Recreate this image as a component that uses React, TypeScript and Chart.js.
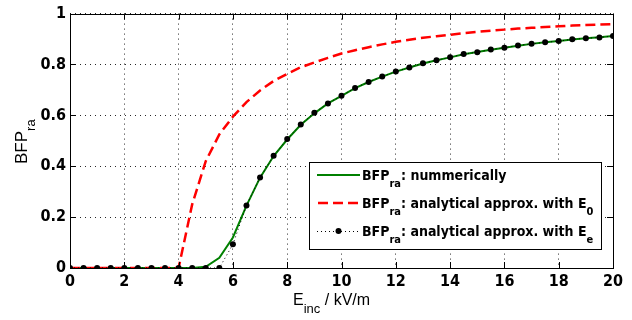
import React, { useEffect, useRef } from "react";
import { Chart, registerables } from "chart.js";

Chart.register(...registerables);

// x positions (E_inc in kV/m)
const eInc = [0, 0.5, 1, 1.5, 2, 2.5, 3, 3.5, 4, 4.5, 5, 5.5, 6, 6.5, 7, 7.5, 8, 8.5, 9, 9.5, 10, 10.5, 11, 11.5, 12, 12.5, 13, 13.5, 14, 14.5, 15, 15.5, 16, 16.5, 17, 17.5, 18, 18.5, 19, 19.5, 20];

// BFP_ra numerically (green)
const numerically = [0, 0, 0, 0, 0, 0, 0, 0, 0, 0, 0.005, 0.04, 0.12, 0.245, 0.355, 0.44, 0.505, 0.563, 0.608, 0.647, 0.677, 0.707, 0.731, 0.752, 0.772, 0.788, 0.804, 0.817, 0.828, 0.84, 0.849, 0.858, 0.866, 0.874, 0.881, 0.887, 0.892, 0.898, 0.903, 0.907, 0.912];

// BFP_ra analytical approx. with E_0 (red dashed)
const approxE0 = [0, 0, 0, 0, 0, 0, 0, 0, 0, 0.25, 0.42, 0.525, 0.595, 0.652, 0.698, 0.735, 0.763, 0.789, 0.808, 0.826, 0.843, 0.856, 0.868, 0.879, 0.889, 0.897, 0.905, 0.911, 0.917, 0.923, 0.928, 0.933, 0.937, 0.941, 0.944, 0.947, 0.95, 0.953, 0.955, 0.957, 0.959];

// BFP_ra analytical approx. with E_e (black dotted with markers)
const approxEe = [0, 0, 0, 0, 0, 0, 0, 0, 0, 0, 0, 0, 0.093, 0.246, 0.356, 0.441, 0.507, 0.564, 0.61, 0.647, 0.677, 0.708, 0.731, 0.753, 0.772, 0.788, 0.805, 0.817, 0.828, 0.841, 0.848, 0.859, 0.866, 0.875, 0.881, 0.887, 0.892, 0.899, 0.903, 0.906, 0.912];

const xTickLabels = ["0", "2", "4", "6", "8", "10", "12", "14", "16", "18", "20"];
const yTickLabels = ["0", "0.2", "0.4", "0.6", "0.8", "1"];

const TICK_FONT = "'Liberation Sans Narrow', 'DejaVu Sans Condensed', Arial, sans-serif";
const TITLE_FONT = "'Liberation Sans', Arial, sans-serif";

type Part = { t: string; sub?: boolean };

const legendTexts: Part[][] = [
  [{ t: "BFP" }, { t: "ra", sub: true }, { t: ": nummerically" }],
  [{ t: "BFP" }, { t: "ra", sub: true }, { t: ": analytical approx. with E" }, { t: "0", sub: true }],
  [{ t: "BFP" }, { t: "ra", sub: true }, { t: ": analytical approx. with E" }, { t: "e", sub: true }],
];

function drawParts(ctx: CanvasRenderingContext2D, parts: Part[], x: number, y: number, size: number, subSize: number, subDy: number, weight: string, family: string) {
  let cx = x;
  for (const p of parts) {
    ctx.font = `${weight} ${p.sub ? subSize : size}px ${family}`;
    ctx.fillText(p.t, cx, p.sub ? y + subDy : y);
    cx += ctx.measureText(p.t).width;
  }
  return cx;
}

const decorPlugin = {
  id: "decor",
  afterDraw(chart: any) {
    const ctx: CanvasRenderingContext2D = chart.ctx;
    const a = chart.chartArea;
    const xs = chart.scales.x;
    const ys = chart.scales.y;
    ctx.save();
    // box
    ctx.strokeStyle = "#000";
    ctx.lineWidth = 1;
    ctx.setLineDash([]);
    ctx.strokeRect(Math.round(a.left) + 0.5, Math.round(a.top) + 0.5, Math.round(a.right - a.left), Math.round(a.bottom - a.top));
    // inward ticks
    const tl = 6;
    ctx.beginPath();
    xs.ticks.forEach((t: any) => {
      const px = Math.round(xs.getPixelForValue(t.value)) + 0.5;
      ctx.moveTo(px, a.bottom);
      ctx.lineTo(px, a.bottom - tl);
      ctx.moveTo(px, a.top);
      ctx.lineTo(px, a.top + tl);
    });
    ys.ticks.forEach((t: any) => {
      const py = Math.round(ys.getPixelForValue(t.value)) + 0.5;
      ctx.moveTo(a.left, py);
      ctx.lineTo(a.left + tl, py);
      ctx.moveTo(a.right, py);
      ctx.lineTo(a.right - tl, py);
    });
    ctx.stroke();

    // axis titles
    ctx.fillStyle = "#000";
    ctx.textBaseline = "alphabetic";
    ctx.textAlign = "left";
    drawParts(ctx, [{ t: "E" }, { t: "inc", sub: true }, { t: " / kV/m" }], 293, 305, 16, 13, 8, "normal", TITLE_FONT);

    ctx.save();
    ctx.translate(27, 164);
    ctx.rotate(-Math.PI / 2);
    drawParts(ctx, [{ t: "BFP" }, { t: "ra", sub: true }], 0, 0, 17, 13, 8, "normal", TITLE_FONT);
    ctx.restore();

    // legend
    const L = 309.5, T = 162.5, R = 601.5, B = 249.5;
    ctx.fillStyle = "#fff";
    ctx.fillRect(L, T, R - L, B - T);
    ctx.strokeStyle = "#000";
    ctx.lineWidth = 1;
    ctx.strokeRect(L, T, R - L, B - T);
    const rowsY = [175, 203, 231];
    const x0 = 317, x1 = 360;
    // green
    ctx.strokeStyle = "#008000";
    ctx.lineWidth = 2;
    ctx.beginPath();
    ctx.moveTo(x0, rowsY[0]);
    ctx.lineTo(x1, rowsY[0]);
    ctx.stroke();
    // red dashed
    ctx.strokeStyle = "#ff0000";
    ctx.lineWidth = 2.5;
    ctx.setLineDash([10, 5]);
    ctx.beginPath();
    ctx.moveTo(x0 + 1, rowsY[1]);
    ctx.lineTo(x1, rowsY[1]);
    ctx.stroke();
    // black dotted with marker
    ctx.strokeStyle = "#000";
    ctx.lineWidth = 1;
    ctx.setLineDash([1, 3]);
    ctx.beginPath();
    ctx.moveTo(x0, rowsY[2] + 0.5);
    ctx.lineTo(x1, rowsY[2] + 0.5);
    ctx.stroke();
    ctx.setLineDash([]);
    ctx.fillStyle = "#000";
    ctx.beginPath();
    ctx.arc(338.5, rowsY[2], 3, 0, Math.PI * 2);
    ctx.fill();

    ctx.fillStyle = "#000";
    const tx = 362;
    legendTexts.forEach((parts, i) => {
      drawParts(ctx, parts, tx, rowsY[i] + 5, 14, 11, 7, "bold", TICK_FONT);
    });
    ctx.restore();
  },
};

export default function App() {
  const ref = useRef<HTMLCanvasElement | null>(null);
  useEffect(() => {
    if (!ref.current) return;
    const mk = (ys: number[]) => eInc.map((x, i) => ({ x, y: ys[i] }));
    const chart = new Chart(ref.current, {
      type: "line",
      data: {
        datasets: [
          {
            label: "Ee",
            data: mk(approxEe),
            borderColor: "#000",
            borderWidth: 1,
            borderDash: [1, 3],
            pointRadius: 3,
            pointBackgroundColor: "#000",
            pointBorderColor: "#000",
            pointBorderWidth: 0,
            pointStyle: "circle",
            order: 0,
          },
          {
            label: "E0",
            data: mk(approxE0),
            borderColor: "#ff0000",
            borderWidth: 2.5,
            borderDash: [10, 5],
            pointRadius: 0,
            order: 1,
          },
          {
            label: "num",
            data: mk(numerically),
            borderColor: "#008000",
            borderWidth: 2,
            pointRadius: 0,
            order: 2,
          },
        ],
      },
      options: {
        animation: false,
        responsive: false,
        events: [],
        layout: { padding: { top: 10, right: 19, left: 0, bottom: 0 } },
        plugins: { legend: { display: false }, tooltip: { enabled: false } },
        scales: {
          x: {
            type: "linear",
            min: 0,
            max: 20,
            afterFit: (s: any) => { s.height = 52; },
            ticks: {
              stepSize: 2,
              padding: 4,
              color: "#000",
              font: { family: TICK_FONT, size: 16, weight: "bold" },
              callback: (_v: any, i: number) => xTickLabels[i],
              maxRotation: 0,
            },
            grid: { color: "rgba(0,0,0,0.85)", drawTicks: false, lineWidth: 1 },
            border: { display: false, dash: [1, 4] },
          },
          y: {
            type: "linear",
            min: 0,
            max: 1,
            afterFit: (s: any) => { s.width = 70; },
            ticks: {
              stepSize: 0.2,
              padding: 4,
              color: "#000",
              font: { family: TICK_FONT, size: 16, weight: "bold" },
              callback: (_v: any, i: number) => yTickLabels[i],
            },
            grid: { color: "rgba(0,0,0,0.85)", drawTicks: false, lineWidth: 1 },
            border: { display: false, dash: [1, 4] },
          },
        },
      },
      plugins: [decorPlugin],
    });
    return () => chart.destroy();
  }, []);
  return (
    <div style={{ position: "fixed", left: 0, top: 0, width: 632, height: 320, background: "#fff" }}>
      <canvas ref={ref} width={632} height={320} style={{ display: "block", width: 632, height: 320 }} />
    </div>
  );
}
